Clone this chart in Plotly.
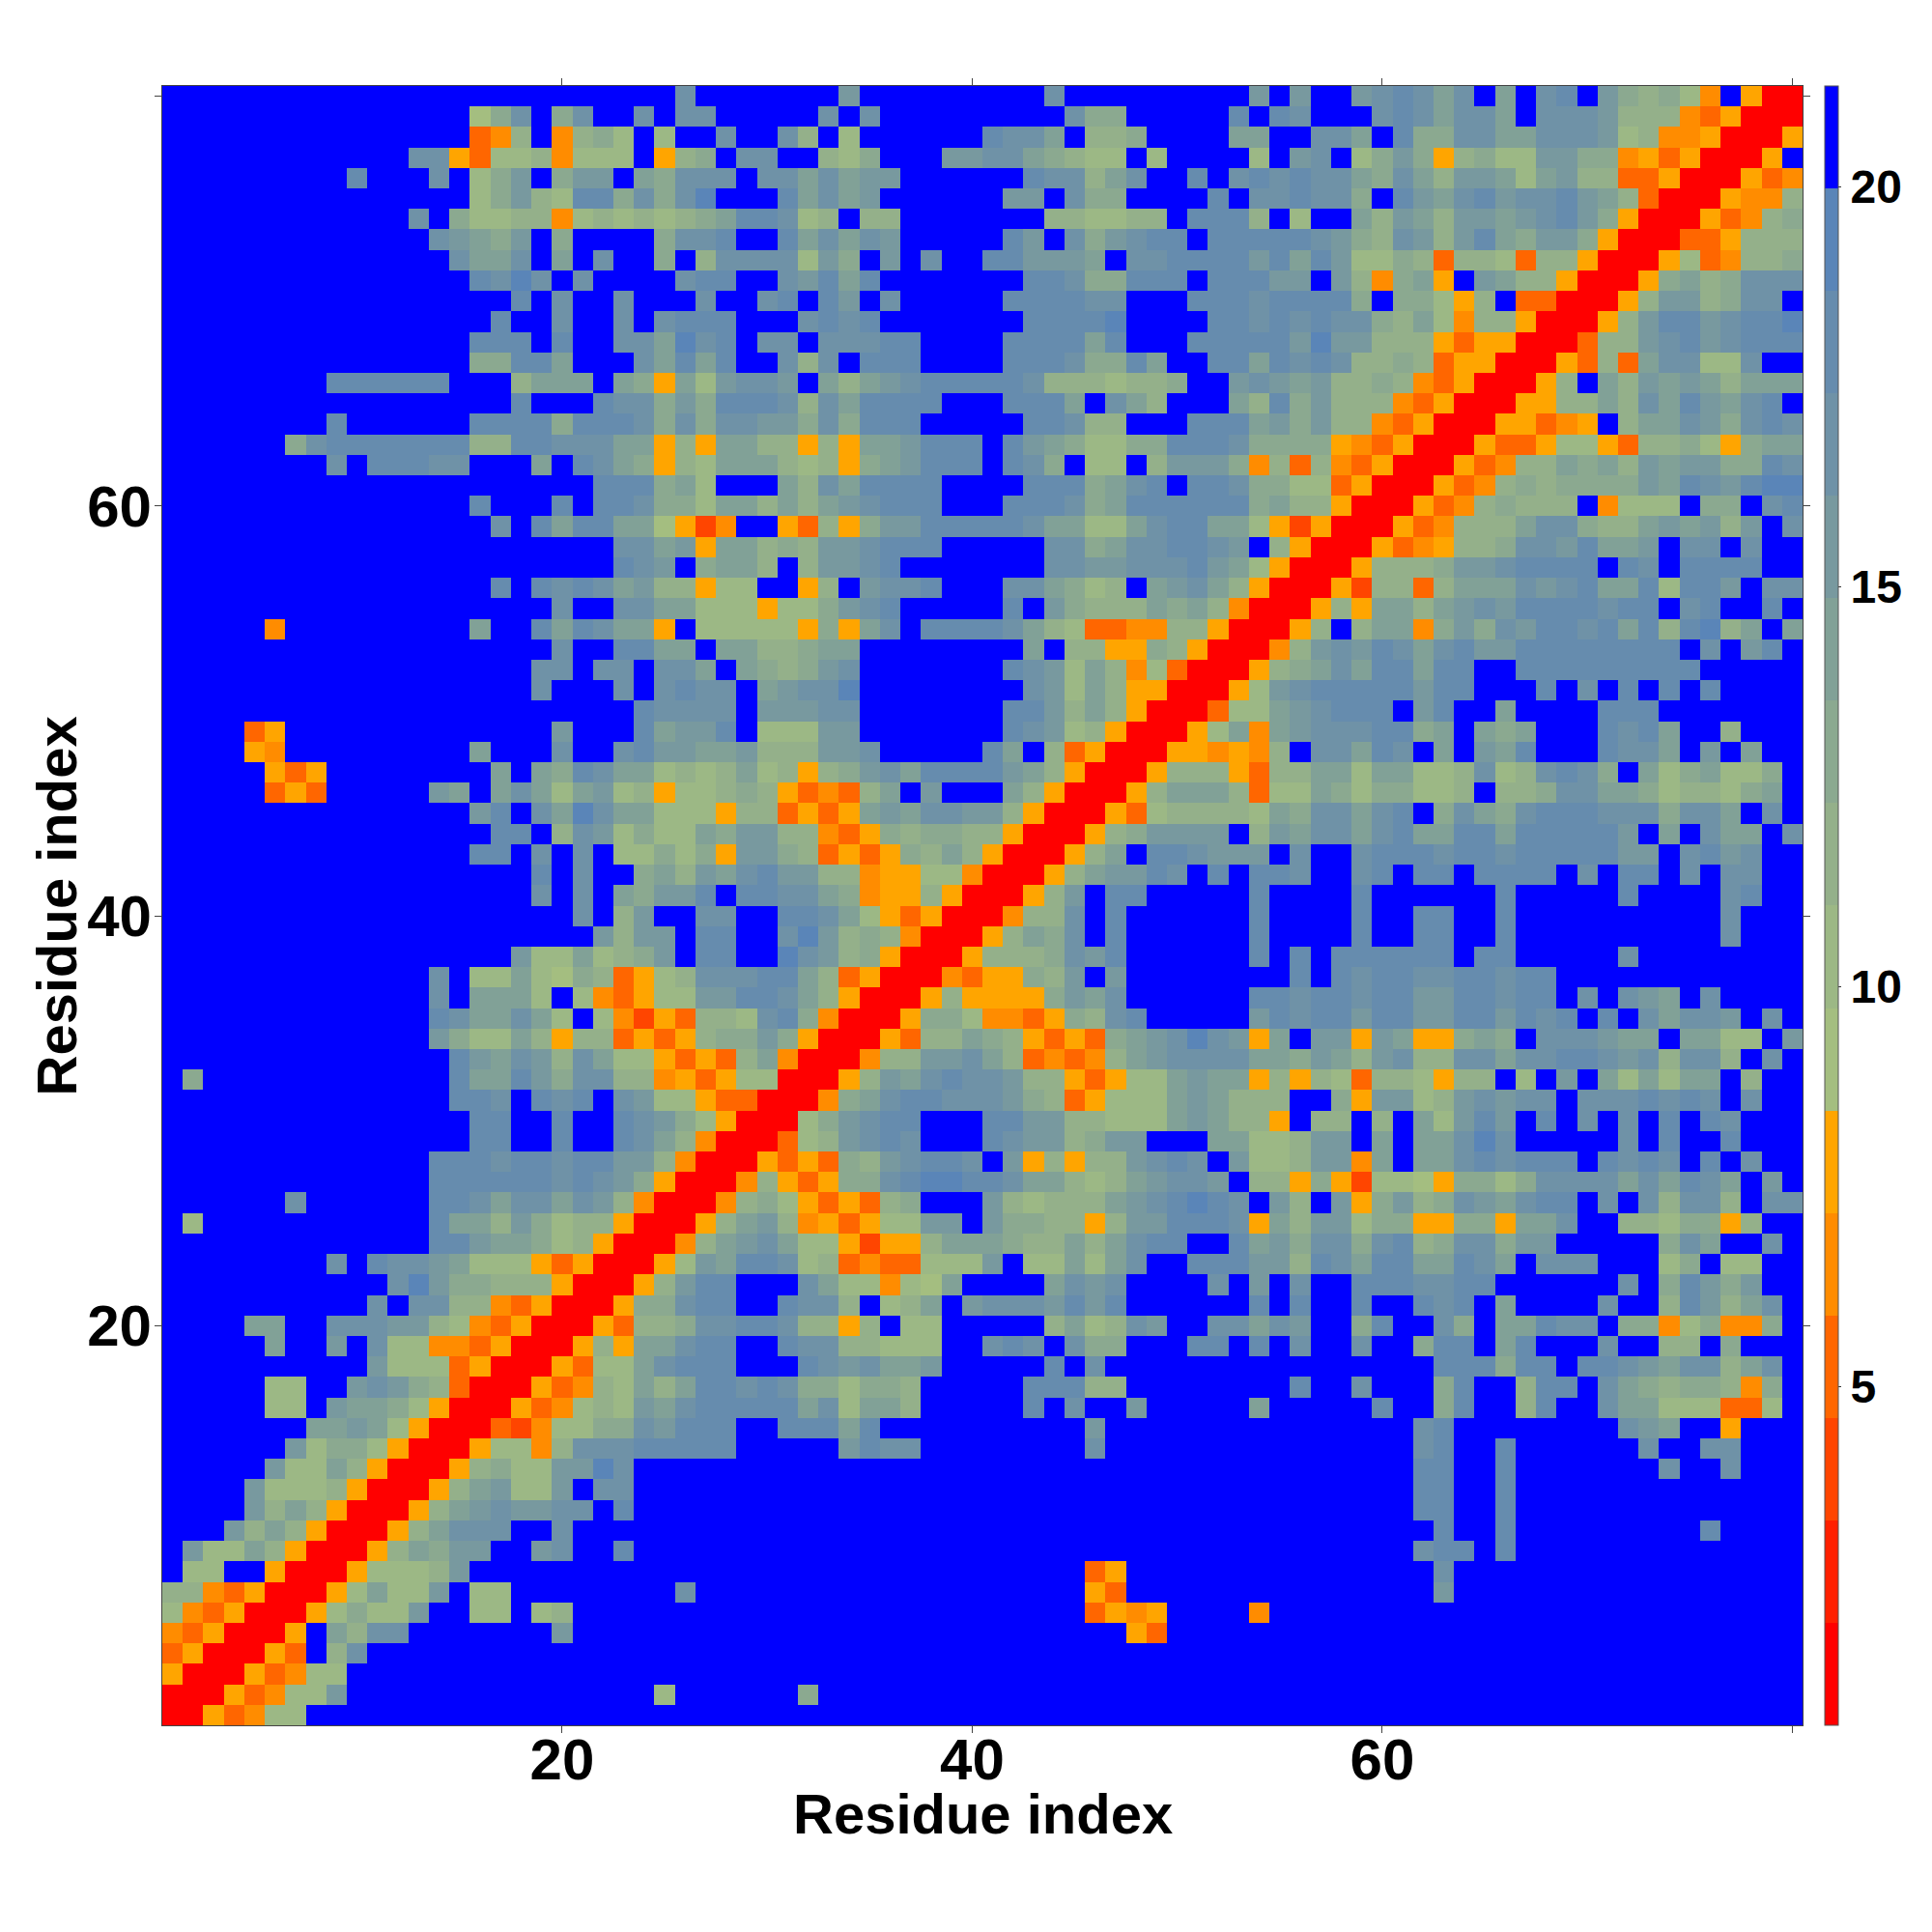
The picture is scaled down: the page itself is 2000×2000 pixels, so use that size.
import sys
import plotly.graph_objects as go

# Cell levels, one row per residue from 80 down to 1.
# Format: "startcolumn:levels"; levels are colour bins 0-e, '.' is the top bin (blue).
LEFT = [
"26:c","16:69c.9c..c.cc","16:348.4897.7..","13:cc537784777.589","10:d 14:c.79b.9bb.a9cc",
"16:79b87dd9c9ce","13:c.9778847878789","14:cba9b.9....9cc","15:caac.a.c..9.8","16:dcec.c....cd",
"18:d.c..c...c","17:d..c..c.cdd","16:ddd.d..ccaec","16:99dda...cada","9:dddddd...8aaa.a95a7",
"18:d...dcc9b9","9:d 16:dddd9dddc9c9","7:9cddddddd88ddcccaa585","9:c.dddcc...a.dca9587","22:ddd9a7",
"16:d 20:d 22:ddc997","17:c.daddaa652","23:ccab5","23:dcb.9","17:d.dcdcab885",
"20:c 23:ccaa7","6:4 16:a..dadcaa5.7","20:c..ddaa.",
"19:cc.cc.cca","19:c...c.cdc","24:dccc","5:35 20:b 24:dabb","5:54 16:a 20:c 23:cdbba",
"6:535 17:a.a9dcaa787","6:353 14:ba.aca7ab78577","16:bd.caecaa777","17:dd.8cb7977a","16:dd.c.c.77979",
"19:d.c..9a8b","19:c.c.a9bbd","21:c.8b..c","22:b8bb.d","18:b77a789b.d",
"14:c.77a76983578c","14:c.aaa7.743577b","14:dcaaca7.742538","14:b977a858835358","15:dbacb8ca77535",
"2:9 15:daadb9cc88453","15:ddc.dcd.cb775","16:dd..d..dcb97","16:dd..d..dca84","14:dddcddcddbb840",
"14:ddddddcdcb9500","7:c 14:ddcaccacb84000","2:7 14:daa8b978850005",
"14:ddbaa978500048","9:c.dccba77753500057b","12:ceb99888500058bd","11:c.cc88435000599cd",
"5:aa 9:cccbb8743500053889c","6:a 9:b.c774435000585aacd","11:b777350005377acdd",
"6:77 10:bcb98300053487a8ad","6:77 9:baa975000534787bacd","8:aaba750003247799cbdd",
"7:b7997500057748cccdddd","6:b77a8500058977bbec","5:b7778500058ab77b.cc","5:b8a8500058abcbbcc.d",
"4:b8a8500058accc..c","2:b77a8500058a9bb..bc..d","2:77..500057778b","1:8843500057a77b.77 26:c",
"1:743500057977b..77.78","1:4350005.a8cc 20:b","1:3500053.8c","1:500053477","1:00053477b 25:7","1:0053477",
]
MID = [
"34:b 44:c 54:b","33:c.c 45:c99 53:d.d","28:c..c8.7 41:dcca.889 53:aa","28:.cc..879 39:bbcca9877.7....7.",
"28:c.ccacabb 43:dcc8ac..d.cdc","31:dacab 42:bb.c99....d.cc","28:addc78.88 44:887788.ddd8.",
"28:d..dacacb 42:db.c9bcdd.dddd","28:cccc7b9.b.c 41:ddbbba.ccddddbd","28:d..cbdad 43:ddc99ddd.dddb",
"28:..cd.db.c 42:ddddcc...dddcd","28:d...cdcd 43:dddde....ddcd","28:d.cc.cccdd 42:ddddad...ddddd",
"28:d..c8c.ddd 42:dddc99da..ddad","28:bccb.a8abcddddd 43:c8887889..bcb",
"dddc8cadddd...ddda.ca8...a8d","ccbb9c9ddd.....ddc88...dddab","aa88585aabddd.dba97799dddc99",
"aaa87859abddd.dc9.77.8bbb948","...a8cadddd....ddd9acd.ddc99","aa8a8abcddd...dddc9adddddd9a",
"4..53859bbdddddcaa77acddaa75","aa898bbcddd.....cc9accddcb.8","aa8.8bbcd.......ccbbcccdba75",
"77..58.bccd...cca978.abca850","775779bcd.....d.b9888a9a8400","7777595ac.ddddca873344885000",
"aa889aa........a.88559850004",
".a989bc.......dcb7a847300058","c.abcce........cb7a85500057b","c.bbbcc.......ddb8a85000377a",
"d.777bb.......dcb78500057a4a","ab888bbc.....da.835000554548","8a78589bcaddddba850005888538",
"89853438a.b...a8500058aaa837","5883535abaccbb8500053788887a","9bb884359899885000589bbbb.8b",
"5bb98353598a8500058a.ddcbbb.","acdbb8845577400058abbdc.d.dd",".ddcca94558500058b.dd.....d.",
"c..ddca7535000488c.d......d.","d..ceb898400058a9c.d......d.","d..ecb89500058889cbd......d.",
"ccdda835000435598b.b........","bddca850005855559bac......dd","87cd940005997443598cd.....bd",
"99b950005388a9853539abcecb5a","38a4000488bbca834348abccccaa","57700058bacdccb8853577abaa58",
"3300049acddcccb9835777aba888","500079bcdd...ddbb88777aba885","000378bcdc...dcbb89bb...aa77",
"00535398bcddc.b58588bcdc.b77","04853599cdeeddcaa878abccb.88","4897535389...b87888abcdedc.b",
"8ab8453577bb.b998858bbdddc5a",
"abca7752558aaa988a8acdd..dab","addc783433777b.77a7ac..dddbb","d...ca77476a....acbc....c.b.",
"d..dcc8.78a.bcccbdbd......d.","cddc8858.77.....8a78cb..ccac","d..dcc88777..cdc.c99...dd.d.",
"28:d...dcbcaab.....d.c","28:dcdc997998.....ddd88","28:ddddac7aa8.....d.c..b.....a",
"28:d..dddad 46:b","28:d.....bdcc 46:c",
"","","","","","46:35","46:53","46:3545 54:4","48:53","","","32:9","",
]
RIGHT = [
"b..bcdcac.a.cd.b98974.500","c...cdcacca.cccb888435000",".cca.d99ccaacccb784450005","bc.79b958977bb9945350005.",
"dcca9ca8bba7ab88335000534","dcc9.dbacdbccdba830005448","7..a8ba8bbabcdb9500053489","dcb98cb8bda9bb95000335888",
"adb7798388738850005734889","b.b849a5.ba88500059a89ccc","ddd9.99758.3300058bb89cc.","cdcc98a7488500058bddbcdde",
"bebb8885355000388bcdbcddd","cdc88983550005383acc77c..","ab889843500058.a8baba8aaa","9b8884350005588a8cadbacd.",
"9b8843500055345.8aacb9cdc","99543500053357753889759aa","3843500053488a9a8babb99dc","77350005348989999badcbdee",
"88500053489888.4777.99.cd","25000534888acc988abab8b.c","50005345889ccbdaab.cc.c..","00058889bbcdddd.dc.dddd..",
"00528838aaacbcdaad7ddb.cc","0585aa8abcbddddcdd.cd..d.","58.8aa49b9cbddcdad8de8a.a","8bcbdcacdbbdddddddd.c.bd.",
"9acaddadd..ddddddddd.....","cdddddbdd...d.c.d.d.d....","bcddd.bd..a....ddd.......","bcccdd9a.a9a...dcda..8...",
".ccadc.a.bad...dcca.b.a..","8aa7aa778c78cdc9.a79a779.","7a9799778.889ccaa978879a.","9ccacd.9ca9cdddccc9cca.c.",
"accacdaaddadddddb.a.caa.c","c..cdddcddcdddddbb.cdbc..","c..cd.dd.dddd.c.dd.c.cc..","...d......d.....d....cd..",
"...d..dd..d..........c...","...d..dd..d..........c...","d.dddddd.dd.....c........","d.dcddccddcdd............",
"cddcddbbddcdd.c.cba.c....","cddbddbbddbdcd.d.caccb.c.",".bb5ba559a9.cccbaa.aa77.b","9ba8bc88ccaccddcbc8cc8.c.",
"5873887588.7.b.a7a7aa.8..","..95bb78bcbcc.cccdcdc.c..",".88.8.a7bdb.d.c.c.d.dc...","8bb.a.aacec.....c.d..d...",
"8bb4a.aacdcddd.dcdc.d.c..","595277659979ccccacadca.b.","8.b59b89cbacdd.c.c8cc8.cc","8bb79955995aac..8879958..",
"9cc9cd89cc9bb.....9ca..c.","8dcaddaadca.ccc...79.77..","c..dddccdd......c.9db9b..","d..d..dcd.a....c..8db8ac.",
"b..9d..c9.aadcc.99479449.","c..c..9dd.ad...c..88.9...","63:ddd9dd.ddcbacc8ac.","56:d 59:c 63:9d..8dd.ca9899849.",
"60:d 63:9d..8d..caa777337.","62:cd 72:cba..5","62:cd 66:d 73:c..cc","62:dd 66:d 74:c 77:c","62:dd 66:d","62:dd 66:d",
"63:d 66:d 76:d","62:cdd 66:d","63:c","63:b","","","","","","",
]
RESIDUES = list(range(1, 81))
TICKS = [20, 40, 60, 80]
TICK_LABELS = ["20", "40", "60", ""]
CBAR_TICKS = [5, 10, 15, 20]
BIN_COLOURS = ["#ff0000", "#ff2000", "#ff4500", "#ff6600", "#ff8c00", "#ffa500", "#a4be80",
               "#9cb885", "#94b08a", "#8ba990", "#81a197", "#78999f", "#6f92a7", "#668cae",
               "#5a85b8", "#0000ff"]
Z_MIN = 0.76
Z_MAX = 21.26
TITLE = "Residue index"

LEVELS = "0123456789abcde."
n = len(BIN_COLOURS)
step = (Z_MAX - Z_MIN) / n


def fill(row, text, default_start, expected):
    for seg in text.split():
        if ":" in seg:
            start, chars = seg.split(":")
            start = int(start)
        else:
            start, chars = default_start, seg
            if len(chars) != expected:
                print("bad length", seg, len(chars), file=sys.stderr)
        for i, ch in enumerate(chars):
            if start - 1 + i < 80:
                row[start - 1 + i] = ch


grid = []
for t in range(80):
    row = ["."] * 80
    fill(row, LEFT[t] if t < len(LEFT) else "", 1, 27)
    fill(row, MID[t] if t < len(MID) else "", 28, 28)
    fill(row, RIGHT[t] if t < len(RIGHT) else "", 56, 25)
    grid.append(row)
grid.reverse()
z = [[Z_MIN + (LEVELS.index(ch) + 0.5) * step for ch in row] for row in grid]

scale = []
for i, c in enumerate(BIN_COLOURS):
    scale.append([i / n, c])
    scale.append([(i + 1) / n, c])

FONT = "Liberation Sans"
title_font = dict(family=FONT, size=58, color="black", weight="bold")
fig = go.Figure(go.Heatmap(
    x=RESIDUES, y=RESIDUES, z=z, zmin=Z_MIN, zmax=Z_MAX, colorscale=scale, hoverongaps=False,
    colorbar=dict(
        x=1.0135, xanchor="left", xpad=0, y=0, yanchor="bottom", ypad=0, len=1, lenmode="fraction",
        thickness=14, tickmode="array", tickvals=CBAR_TICKS, ticktext=[str(v) for v in CBAR_TICKS],
        ticks="outside", ticklen=3, tickwidth=1, tickcolor="#333", outlinewidth=1, outlinecolor="#555",
        tickfont=dict(family=FONT, size=48, color="black", weight="bold"),
    ),
))
axis = dict(
    range=[0.5, 80.5], tickmode="array", tickvals=TICKS, ticktext=TICK_LABELS, ticks="outside",
    ticklen=7, tickwidth=1, tickcolor="#444", showgrid=False, zeroline=False, showline=True,
    linecolor="#444", linewidth=1, mirror="ticks",
    tickfont=dict(family=FONT, size=60, color="black", weight="bold"),
)
fig.update_layout(
    width=2000, height=2000, autosize=False, paper_bgcolor="white", plot_bgcolor="white",
    margin=dict(l=168, r=134, t=89, b=214),
    xaxis=dict(axis, ticklabelstandoff=-24),
    yaxis=dict(axis, ticklabelstandoff=-9),
    annotations=[
        dict(text=TITLE, xref="paper", yref="paper", x=0.5, y=-0.0542, xanchor="center", yanchor="middle",
             showarrow=False, font=title_font),
        dict(text=TITLE, xref="paper", yref="paper", x=-0.0642, y=0.5, xanchor="center", yanchor="middle",
             textangle=-90, showarrow=False, font=title_font),
    ],
)
fig.write_html("out.html", config=dict(displayModeBar=False), post_script="document.body.style.margin='0';")
